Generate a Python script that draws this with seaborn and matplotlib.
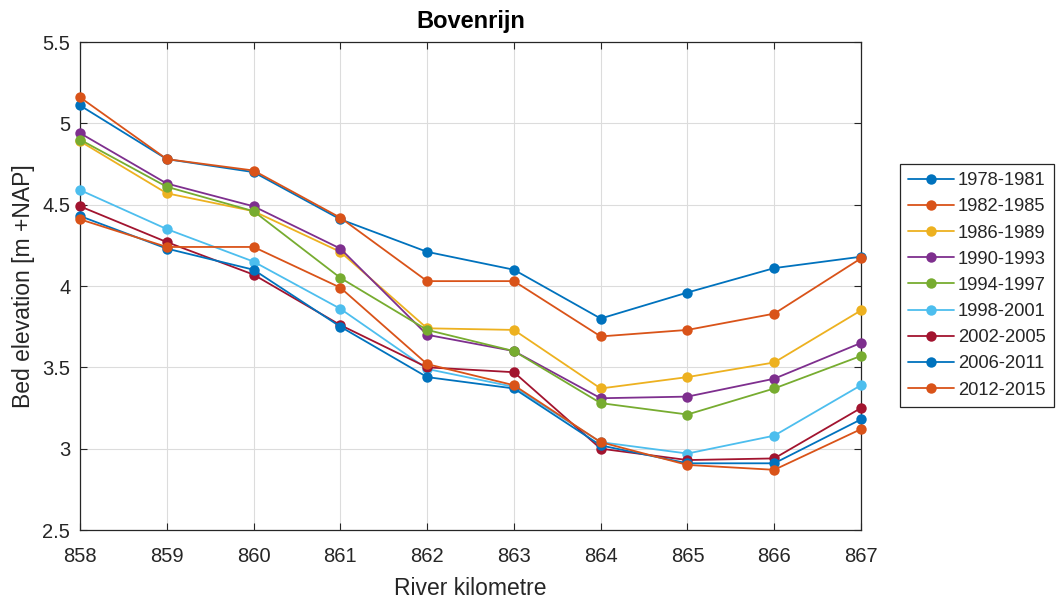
import numpy as np
import pandas as pd
import matplotlib
matplotlib.use("Agg")
import matplotlib.pyplot as plt
from matplotlib.ticker import FuncFormatter, MultipleLocator
import seaborn as sns

# River kilometres along the Bovenrijn
km = [858, 859, 860, 861, 862, 863, 864, 865, 866, 867]

periods = ["1978-1981", "1982-1985", "1986-1989", "1990-1993", "1994-1997",
           "1998-2001", "2002-2005", "2006-2011", "2012-2015"]

# Mean bed elevation per period [m +NAP]
z_1978_1981 = [5.11, 4.78, 4.70, 4.41, 4.21, 4.10, 3.80, 3.96, 4.11, 4.18]
z_1982_1985 = [5.16, 4.78, 4.71, 4.42, 4.03, 4.03, 3.69, 3.73, 3.83, 4.17]
z_1986_1989 = [4.89, 4.57, 4.46, 4.21, 3.74, 3.73, 3.37, 3.44, 3.53, 3.85]
z_1990_1993 = [4.94, 4.63, 4.49, 4.23, 3.70, 3.60, 3.31, 3.32, 3.43, 3.65]
z_1994_1997 = [4.90, 4.61, 4.46, 4.05, 3.73, 3.60, 3.28, 3.21, 3.37, 3.57]
z_1998_2001 = [4.59, 4.35, 4.15, 3.86, 3.49, 3.38, 3.04, 2.97, 3.08, 3.39]
z_2002_2005 = [4.49, 4.27, 4.07, 3.76, 3.50, 3.47, 3.00, 2.93, 2.94, 3.25]
z_2006_2011 = [4.43, 4.23, 4.10, 3.75, 3.44, 3.37, 3.02, 2.91, 2.91, 3.18]
z_2012_2015 = [4.41, 4.24, 4.24, 3.99, 3.52, 3.39, 3.04, 2.90, 2.87, 3.12]

series = [z_1978_1981, z_1982_1985, z_1986_1989, z_1990_1993, z_1994_1997,
          z_1998_2001, z_2002_2005, z_2006_2011, z_2012_2015]

colors = ["#0072BD", "#D95319", "#EDB120", "#7E2F8E", "#77AC30",
          "#4DBEEE", "#A2142F", "#0072BD", "#D95319"]

df = pd.DataFrame({
    "km": np.tile(km, len(periods)),
    "z": np.concatenate(series),
    "period": np.repeat(periods, len(km)),
})

sns.set_theme(style="white")
plt.rcParams["font.family"] = ["Liberation Sans", "DejaVu Sans"]

fig = plt.figure(figsize=(10.58, 5.99), dpi=100)
ax = fig.add_axes([80 / 1058, 1 - 530 / 599, (861 - 80) / 1058, (530 - 42) / 599])

sns.lineplot(data=df, x="km", y="z", hue="period", hue_order=periods,
             palette=colors, marker="o", markersize=7.5, markeredgewidth=0,
             linewidth=1.3, legend=False, ax=ax, zorder=3)
for ln in ax.get_lines():
    ln.set_clip_on(False)

ax.set_xlim(858, 867)
ax.set_ylim(2.5, 5.5)
ax.xaxis.set_major_locator(MultipleLocator(1))
ax.yaxis.set_major_locator(MultipleLocator(0.5))
ax.yaxis.set_major_formatter(FuncFormatter(lambda v, p: f"{v:g}"))

ax.grid(True, color="#dcdcdc", linewidth=0.8)
ax.set_axisbelow(True)
for s in ax.spines.values():
    s.set_color("#262626")
    s.set_linewidth(0.9)
ax.tick_params(direction="in", length=5, width=0.8, colors="#262626",
               labelsize=14.5, top=True, right=True, bottom=True, left=True)
ax.tick_params(axis="x", pad=12)
ax.tick_params(axis="y", pad=7)

ax.set_xlabel("River kilometre", fontsize=16.5, color="#262626", labelpad=8)
ax.set_ylabel("Bed elevation [m +NAP]", fontsize=16.5, color="#262626", labelpad=5)
ax.set_title("Bovenrijn", fontsize=17, fontweight="bold", color="black", pad=10)

leg = ax.legend(handles=ax.get_lines()[:len(periods)], labels=periods,
                loc="upper left", bbox_to_anchor=(900 / 1058, 1 - 164 / 599),
                bbox_transform=fig.transFigure, borderaxespad=0,
                fontsize=13.2, frameon=True, fancybox=False, framealpha=1,
                edgecolor="#262626", handlelength=2.5, labelspacing=0.5,
                borderpad=0.45, handletextpad=0.2)
leg.get_frame().set_linewidth(0.9)
for t in leg.get_texts():
    t.set_color("#262626")

fig.savefig("out.png", dpi=100)
